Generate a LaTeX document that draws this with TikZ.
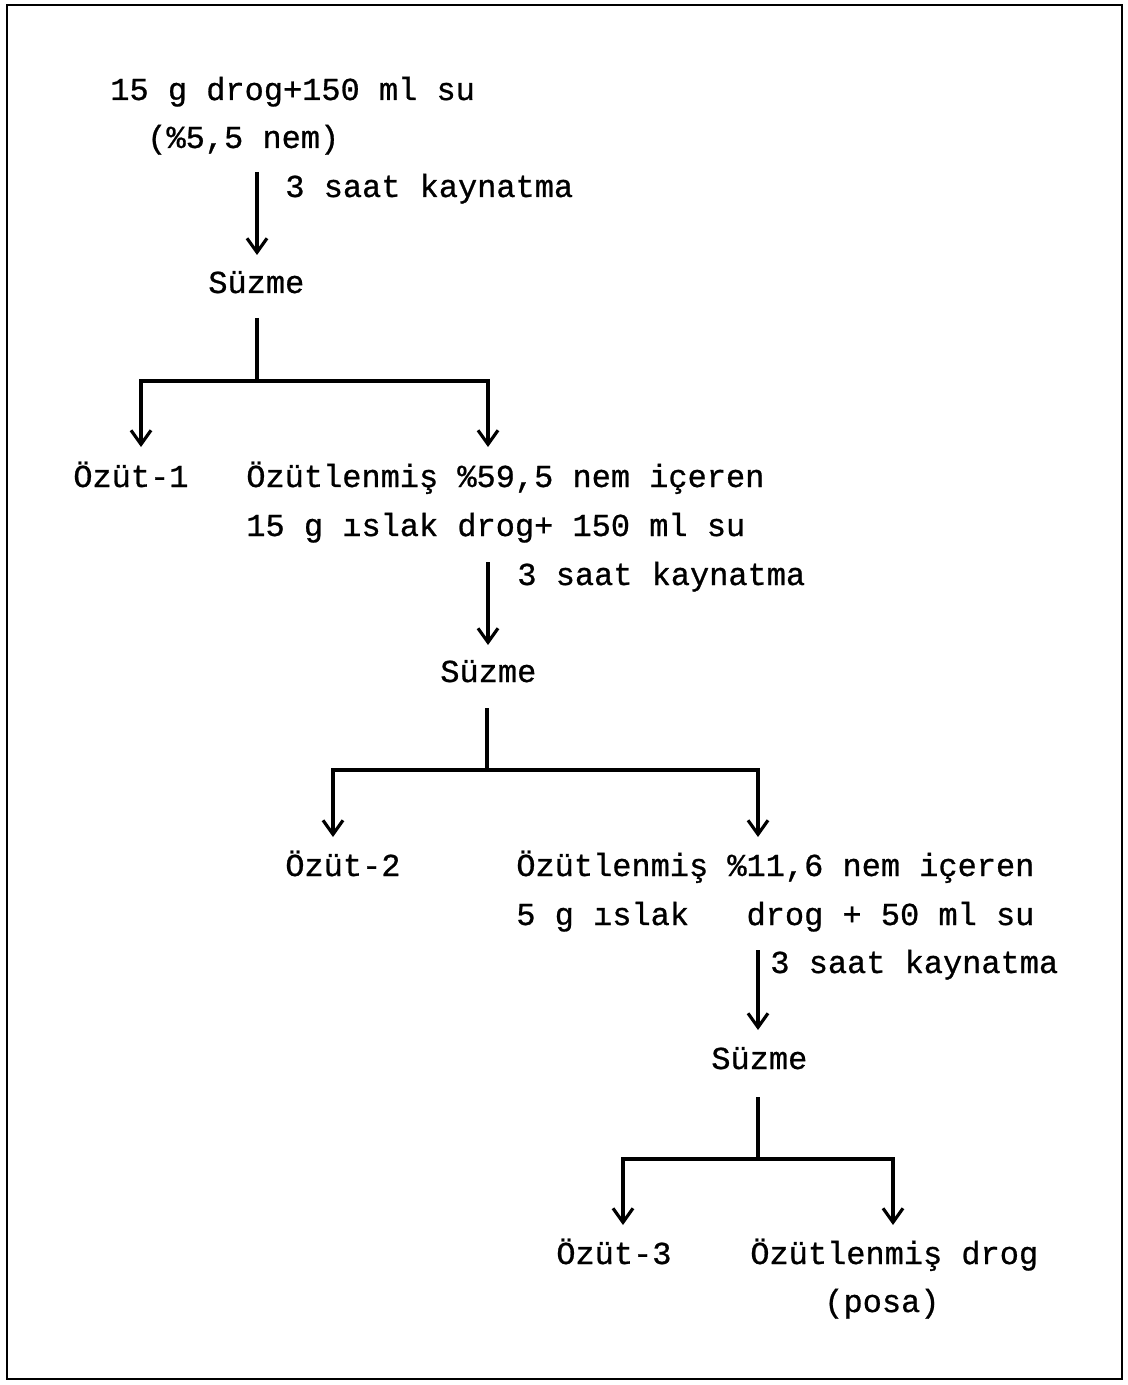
\documentclass[tikz,border=0pt]{standalone}
\usepackage{fontspec}
\setmainfont{Liberation Mono}[FakeBold=0.8]
\usetikzlibrary{arrows.meta}
\tikzset{
  txt/.style={anchor=base west,inner sep=0pt,font=\fontsize{18.2}{22}\selectfont},
  flow/.style={line width=1.8pt},
  boxline/.style={line width=1.1pt}
}

\begin{document}
\begin{tikzpicture}[x=0.02cm,y=-0.02cm,>={Straight Barb[length=2.8mm,width=4mm]}]
\useasboundingbox (0,0) rectangle (1127,1385);
\draw[boxline] (7,5) rectangle (1122,1379);
% texts
\node[txt] (in1) at (110,100) {15 g drog+150 ml su};
\node[txt] (nem1) at (147,148) {(\%5,5 nem)};
\node[txt] (suz1) at (208,293) {Süzme};
\node[txt] (oz1) at (73,487) {Özüt-1};
\node[txt] (in2) at (246,487) {Özütlenmiş \%59,5 nem içeren};
\node[txt] (in2b) at (246,536) {15 g ıslak drog+ 150 ml su};
\node[txt] (suz2) at (440,682) {Süzme};
\node[txt] (oz2) at (285,876) {Özüt-2};
\node[txt] (in3) at (516,876) {Özütlenmiş \%11,6 nem içeren};
\node[txt] (in3b) at (516,925) {5 g ıslak\ \ \ drog + 50 ml su};
\node[txt] (suz3) at (711,1069) {Süzme};
\node[txt] (oz3) at (556,1264) {Özüt-3};
\node[txt] (posa) at (750,1264) {Özütlenmiş drog};
\node[txt] (posa2) at (824,1312) {(posa)};
% boiling steps
\foreach \k/\x/\ya/\yb/\lx/\ly in {1/257/172/255/285/197, 2/488/562/645/517/585, 3/758/950/1030/770/973}{
  \coordinate (ka\k) at (\x,\ya);
  \coordinate (kb\k) at (\x,\yb);
  \draw[flow,->] (ka\k) -- (kb\k);
  \node[txt] (kay\k) at (\lx,\ly) {3 saat kaynatma};}
% filtering splits
\foreach \s/\x/\ya/\yb/\l/\r/\ye in {1/257/318/381/141/488/447, 2/487/708/770/333/758/837, 3/758/1097/1159/623/893/1225}{
  \coordinate (s\s) at (\x,\ya);
  \coordinate (j\s) at (\x,\yb);
  \coordinate (el\s) at (\l,\ye);
  \coordinate (er\s) at (\r,\ye);
  \draw[flow] (s\s) -- (j\s);
  \draw[flow,->] (j\s) -| (el\s);
  \draw[flow,->] (j\s) -| (er\s);}
\end{tikzpicture}
\end{document}
